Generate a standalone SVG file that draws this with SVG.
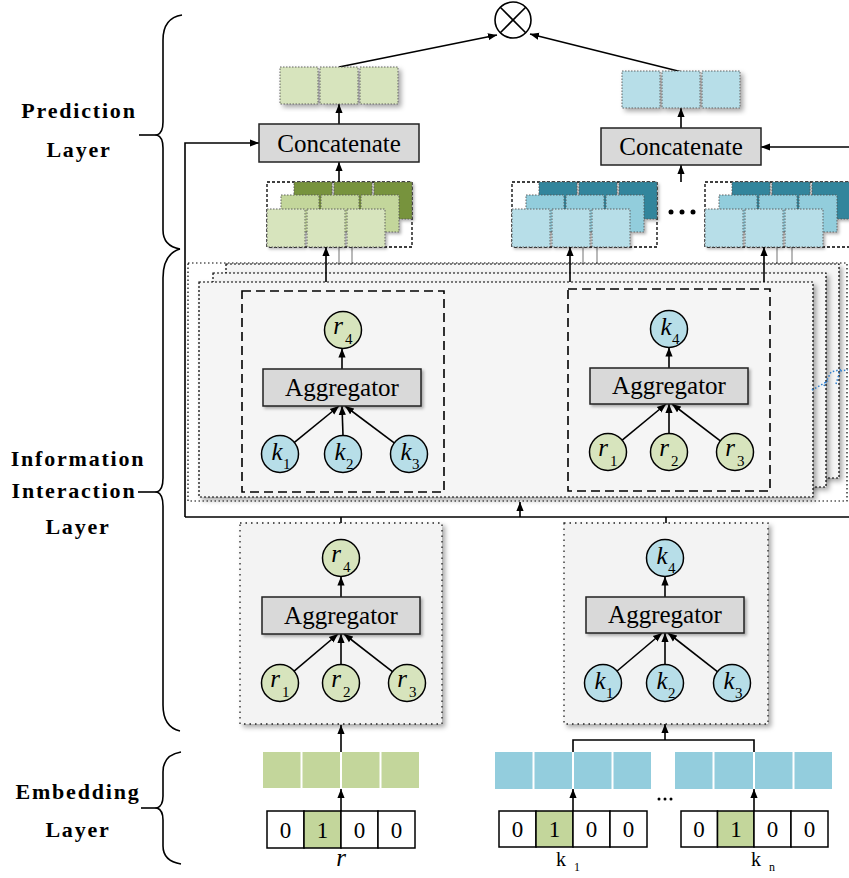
<svg xmlns="http://www.w3.org/2000/svg" width="849" height="878" viewBox="0 0 849 878">
<defs>
<style>
.t{font-family:"Liberation Serif","Times New Roman",serif;fill:#000}
.lay{font-family:"Liberation Serif","Times New Roman",serif;font-weight:bold;font-size:22px;letter-spacing:1.8px;text-anchor:middle}
.ln{stroke:#000;stroke-width:1.6;fill:none}
.ar{stroke:#000;stroke-width:1.6;fill:none;marker-end:url(#ah)}
.gl{stroke:#8a8a8a;stroke-width:1.2}
.ng{fill:#d7e4bd;stroke:#000;stroke-width:1.5}
.nb{fill:#b7dee8;stroke:#000;stroke-width:1.5}
.box{fill:#d9d9d9;stroke:#222;stroke-width:1.5}
.boxt{font-size:25px;text-anchor:middle}
.let{font-size:25px;font-style:italic;text-anchor:middle}
.sub{font-size:15px}
.dash{fill:none;stroke:#000;stroke-width:1.6;stroke-dasharray:9 5}
.frame{fill:#f5f5f5;stroke:#000;stroke-width:1.2;stroke-dasharray:2 2}
.panel{fill:#f3f3f3;stroke:#222;stroke-width:1.3;stroke-dasharray:1.5 4}
.grp{fill:#fff;stroke:#000;stroke-width:1.3;stroke-dasharray:3 2}
.cell{stroke:#555;stroke-width:0.9;stroke-dasharray:1.5 1.5}
.gd{fill:#77933c}.gm{fill:#c3d69b}.gf{fill:#d7e4bd}
.bd{fill:#31859c}.bm{fill:#92cddc}.bf{fill:#b7dee8}
.emg{fill:#c3d69b}.emb{fill:#93cddd}
.oh{fill:#fff;stroke:#000;stroke-width:1.5}
.ohg{fill:#c3d69b;stroke:#000;stroke-width:1.5}
.dig{font-size:23px;text-anchor:middle}
.brace{fill:none;stroke:#000;stroke-width:1.6}
.blue{fill:none;stroke:#2e7fcf;stroke-width:1.5;stroke-dasharray:1.5 2}
</style>
<marker id="ah" viewBox="0 0 10 10" refX="10" refY="5" markerWidth="9" markerHeight="9" markerUnits="userSpaceOnUse" orient="auto">
<path d="M0,1 L10,5 L0,9 z" fill="#000"/>
</marker>
<filter id="sh" x="-10%" y="-10%" width="130%" height="130%">
<feDropShadow dx="3" dy="3" stdDeviation="2.5" flood-color="#000" flood-opacity="0.35"/>
</filter>
<filter id="sh2" x="-10%" y="-10%" width="130%" height="130%">
<feDropShadow dx="2" dy="2" stdDeviation="1.5" flood-color="#000" flood-opacity="0.3"/>
</filter>
</defs>
<rect width="849" height="878" fill="#fff"/>

<!-- Layer labels and braces -->
<g id="labels">
<text class="lay" x="79" y="118">Prediction</text>
<text class="lay" x="79" y="157">Layer</text>
<text class="lay" x="78" y="466">Information</text>
<text class="lay" x="74" y="498">Interaction</text>
<text class="lay" x="78" y="534">Layer</text>
<text class="lay" x="78" y="799">Embedding</text>
<text class="lay" x="78" y="837">Layer</text>
<path class="brace" d="M182,15 Q163,18 163,40 L163,122 Q163,133 157,135 Q163,137 163,148 L163,230 Q163,246 180,249"/>
<path class="brace" d="M180,249 Q163,254 163,278 L163,478 Q163,490 157,492 Q163,494 163,506 L163,705 Q163,727 180,731"/>
<path class="brace" d="M181,752 Q163,755 163,772 L163,796 Q163,806 157,808 Q163,810 163,820 L163,846 Q163,861 181,864"/>
<line class="ln" x1="139" y1="135" x2="157" y2="135"/>
<line class="ln" x1="138" y1="492" x2="157" y2="492"/>
<line class="ln" x1="141" y1="808" x2="157" y2="808"/>
</g>

<!-- Connectors -->
<g id="connectors">
<path class="ar" d="M185,517 V143 H259"/>
<line class="ln" x1="185" y1="517" x2="849" y2="517"/>
<line class="ar" x1="849" y1="147" x2="761" y2="147"/>
<line class="ln" x1="341" y1="517" x2="341" y2="523"/>
<line class="ln" x1="666" y1="517" x2="666" y2="523"/>
<line class="ar" x1="520" y1="517" x2="520" y2="502"/>
<line class="ar" x1="339" y1="67" x2="497" y2="35"/>
<line class="ar" x1="682" y1="72" x2="530" y2="34"/>
<line class="ar" x1="339" y1="124" x2="339" y2="104"/>
<line class="ar" x1="339" y1="182" x2="339" y2="162"/>
<line class="ar" x1="681" y1="128" x2="681" y2="108"/>
<line class="ar" x1="681" y1="182" x2="681" y2="165"/>
<line class="gl" x1="339" y1="247" x2="339" y2="273"/>
<line class="gl" x1="352" y1="247" x2="352" y2="264"/>
<line class="gl" x1="583" y1="247" x2="583" y2="273"/>
<line class="gl" x1="597" y1="247" x2="597" y2="264"/>
<line class="gl" x1="777" y1="247" x2="777" y2="273"/>
<line class="gl" x1="792" y1="247" x2="792" y2="264"/>
<line class="ar" x1="341" y1="752" x2="341" y2="725"/>
<line class="ar" x1="341" y1="811" x2="341" y2="789"/>
<line class="ar" x1="573" y1="811" x2="573" y2="789"/>
<line class="ar" x1="754" y1="811" x2="754" y2="789"/>
<path class="ln" d="M573,752 V740 H754 V752"/>
<line class="ar" x1="665" y1="740" x2="665" y2="724"/>
</g>

<!-- Product node -->
<g id="product">
<circle cx="513" cy="20" r="18" fill="#fff" stroke="#000" stroke-width="1.6"/>
<line class="ln" x1="500.3" y1="7.3" x2="525.7" y2="32.7"/>
<line class="ln" x1="525.7" y1="7.3" x2="500.3" y2="32.7"/>
</g>

<!-- Prediction outputs -->
<g id="out-left" filter="url(#sh)">
<rect class="cell gf" x="280" y="67" width="38" height="37"/>
<rect class="cell gf" x="320" y="67" width="38" height="37"/>
<rect class="cell gf" x="360" y="67" width="38" height="37"/>
</g>
<g id="out-right" filter="url(#sh)">
<rect class="cell bf" x="622" y="71" width="38" height="37"/>
<rect class="cell bf" x="662" y="71" width="38" height="37"/>
<rect class="cell bf" x="702" y="71" width="38" height="37"/>
</g>
<g id="concat-left">
<rect class="box" x="259" y="124" width="160" height="38"/>
<text class="t boxt" x="339" y="152">Concatenate</text>
</g>
<g id="concat-right">
<rect class="box" x="601" y="128" width="160" height="37"/>
<text class="t boxt" x="681" y="155">Concatenate</text>
</g>

<!-- Stacked embedding groups -->
<g id="stack-left">
<rect class="grp" x="267" y="182" width="145" height="65"/>
<g filter="url(#sh2)">
<rect class="cell gd" x="294" y="182" width="38" height="37"/><rect class="cell gd" x="334" y="182" width="38" height="37"/><rect class="cell gd" x="374" y="182" width="38" height="37"/>
<rect class="cell gm" x="281" y="195" width="38" height="37"/><rect class="cell gm" x="321" y="195" width="38" height="37"/><rect class="cell gm" x="361" y="195" width="38" height="37"/>
<rect class="cell gf" x="267" y="209" width="38" height="38"/><rect class="cell gf" x="307" y="209" width="38" height="38"/><rect class="cell gf" x="347" y="209" width="38" height="38"/>
</g>
</g>
<g id="stack-right-1">
<rect class="grp" x="512" y="182" width="145" height="65"/>
<g filter="url(#sh2)">
<rect class="cell bd" x="539" y="182" width="38" height="37"/><rect class="cell bd" x="579" y="182" width="38" height="37"/><rect class="cell bd" x="619" y="182" width="38" height="37"/>
<rect class="cell bm" x="526" y="195" width="38" height="37"/><rect class="cell bm" x="566" y="195" width="38" height="37"/><rect class="cell bm" x="606" y="195" width="38" height="37"/>
<rect class="cell bf" x="512" y="209" width="38" height="38"/><rect class="cell bf" x="552" y="209" width="38" height="38"/><rect class="cell bf" x="592" y="209" width="38" height="38"/>
</g>
</g>
<g id="dots-top">
<circle cx="671" cy="212" r="2.5"/><circle cx="682" cy="212" r="2.5"/><circle cx="693" cy="212" r="2.5"/>
</g>
<g id="stack-right-2">
<rect class="grp" x="705" y="182" width="150" height="65"/>
<g filter="url(#sh2)">
<rect class="cell bd" x="732" y="182" width="38" height="37"/><rect class="cell bd" x="772" y="182" width="38" height="37"/><rect class="cell bd" x="812" y="182" width="40" height="37"/>
<rect class="cell bm" x="719" y="195" width="38" height="37"/><rect class="cell bm" x="759" y="195" width="38" height="37"/><rect class="cell bm" x="799" y="195" width="38" height="37"/>
<rect class="cell bf" x="705" y="209" width="38" height="38"/><rect class="cell bf" x="745" y="209" width="38" height="38"/><rect class="cell bf" x="785" y="209" width="38" height="38"/>
</g>
</g>

<!-- Information interaction frames -->
<g id="interaction-frames">
<rect x="188" y="263" width="659" height="238" fill="none" stroke="#000" stroke-width="1.2" stroke-dasharray="1.5 2.5"/>
<rect class="frame" x="226" y="264" width="613" height="214" filter="url(#sh)"/>
<rect class="frame" x="213" y="273" width="613" height="214" filter="url(#sh)"/>
<rect class="frame" x="199" y="282" width="614" height="215" filter="url(#sh)"/>
<path class="blue" d="M812,390 L828,381 M824,386 L831,372 L843,369 M836,384 L840,371 L848,370"/>
<line class="ar" x1="326" y1="282" x2="326" y2="247"/>
<line class="ar" x1="570" y1="282" x2="570" y2="247"/>
<line class="ar" x1="764" y1="282" x2="764" y2="247"/>
</g>

<g id="interact-left">
<rect class="dash" x="242" y="291" width="202" height="201"/>
<line class="ar" x1="342" y1="369" x2="342" y2="348.5"/>
<line class="ar" x1="294.4" y1="442.4" x2="339" y2="406"/>
<line class="ar" x1="343" y1="435.5" x2="342" y2="406"/>
<line class="ar" x1="394.2" y1="442.9" x2="345" y2="406"/>
<rect class="box" x="263" y="369" width="158" height="37" filter="url(#sh2)"/>
<text class="t boxt" x="342" y="396">Aggregator</text>
<circle class="ng" cx="343" cy="330" r="18.5"/>
<text class="t let" x="338" y="334">r</text><text class="t sub" x="345" y="344">4</text>
<circle class="nb" cx="280" cy="454" r="18.5"/>
<text class="t let" x="277" y="460">k</text><text class="t sub" x="283" y="469">1</text>
<circle class="nb" cx="343" cy="454" r="18.5"/>
<text class="t let" x="340" y="460">k</text><text class="t sub" x="346" y="469">2</text>
<circle class="nb" cx="409" cy="454" r="18.5"/>
<text class="t let" x="406" y="460">k</text><text class="t sub" x="412" y="469">3</text>
</g>

<g id="interact-right">
<rect class="dash" x="568" y="289" width="202" height="202"/>
<line class="ar" x1="669" y1="368" x2="669" y2="347.5"/>
<line class="ar" x1="622.2" y1="440.2" x2="666" y2="404"/>
<line class="ar" x1="669" y1="433.5" x2="669" y2="404"/>
<line class="ar" x1="720.3" y1="440.8" x2="672" y2="404"/>
<rect class="box" x="590" y="368" width="158" height="36" filter="url(#sh2)"/>
<text class="t boxt" x="669" y="394">Aggregator</text>
<circle class="nb" cx="669" cy="329" r="18.5"/>
<text class="t let" x="666" y="335">k</text><text class="t sub" x="672" y="344">4</text>
<circle class="ng" cx="608" cy="452" r="18.5"/>
<text class="t let" x="603" y="456">r</text><text class="t sub" x="610" y="466">1</text>
<circle class="ng" cx="669" cy="452" r="18.5"/>
<text class="t let" x="664" y="456">r</text><text class="t sub" x="671" y="466">2</text>
<circle class="ng" cx="735" cy="452" r="18.5"/>
<text class="t let" x="730" y="456">r</text><text class="t sub" x="737" y="466">3</text>
</g>

<!-- Lower aggregation panels -->
<g id="agg-r">
<rect class="panel" x="240" y="523" width="202" height="201" filter="url(#sh)"/>
<line class="ar" x1="341" y1="597" x2="341" y2="576.5"/>
<line class="ar" x1="294.1" y1="671.1" x2="338" y2="634"/>
<line class="ar" x1="341" y1="664.5" x2="341" y2="634"/>
<line class="ar" x1="392.4" y1="671.6" x2="344" y2="634"/>
<rect class="box" x="262" y="597" width="158" height="37" filter="url(#sh2)"/>
<text class="t boxt" x="341" y="624">Aggregator</text>
<circle class="ng" cx="341" cy="558" r="18.5"/>
<text class="t let" x="336" y="562">r</text><text class="t sub" x="343" y="572">4</text>
<circle class="ng" cx="280" cy="683" r="18.5"/>
<text class="t let" x="275" y="687">r</text><text class="t sub" x="282" y="697">1</text>
<circle class="ng" cx="341" cy="683" r="18.5"/>
<text class="t let" x="336" y="687">r</text><text class="t sub" x="343" y="697">2</text>
<circle class="ng" cx="407" cy="683" r="18.5"/>
<text class="t let" x="402" y="687">r</text><text class="t sub" x="409" y="697">3</text>
</g>

<g id="agg-k">
<rect class="panel" x="564" y="523" width="204" height="201" filter="url(#sh)"/>
<line class="ar" x1="665" y1="597" x2="665" y2="576.5"/>
<line class="ar" x1="617.1" y1="671" x2="662" y2="633"/>
<line class="ar" x1="665" y1="664.5" x2="665" y2="633"/>
<line class="ar" x1="717.4" y1="671.6" x2="668" y2="633"/>
<rect class="box" x="586" y="597" width="158" height="36" filter="url(#sh2)"/>
<text class="t boxt" x="665" y="623">Aggregator</text>
<circle class="nb" cx="665" cy="558" r="18.5"/>
<text class="t let" x="662" y="564">k</text><text class="t sub" x="668" y="573">4</text>
<circle class="nb" cx="603" cy="683" r="18.5"/>
<text class="t let" x="600" y="689">k</text><text class="t sub" x="606" y="698">1</text>
<circle class="nb" cx="665" cy="683" r="18.5"/>
<text class="t let" x="662" y="689">k</text><text class="t sub" x="668" y="698">2</text>
<circle class="nb" cx="732" cy="683" r="18.5"/>
<text class="t let" x="729" y="689">k</text><text class="t sub" x="735" y="698">3</text>
</g>

<!-- Embedding layer -->
<g id="emb-r">
<rect class="emg" x="263" y="752" width="37.5" height="36"/><rect class="emg" x="302.5" y="752" width="37.5" height="36"/><rect class="emg" x="342" y="752" width="37.5" height="36"/><rect class="emg" x="381.5" y="752" width="37.5" height="36"/>
<rect class="oh" x="267" y="811" width="37" height="37"/><rect class="ohg" x="304" y="811" width="37" height="37"/><rect class="oh" x="341" y="811" width="37" height="37"/><rect class="oh" x="378" y="811" width="37" height="37"/>
<text class="t dig" x="285.5" y="838">0</text><text class="t dig" x="322.5" y="838">1</text><text class="t dig" x="359.5" y="838">0</text><text class="t dig" x="396.5" y="838">0</text>
<text class="t" x="341" y="866" font-size="25" font-style="italic" text-anchor="middle">r</text>
</g>
<g id="emb-k1">
<rect class="emb" x="495" y="752" width="37.5" height="37"/><rect class="emb" x="534.5" y="752" width="37.5" height="37"/><rect class="emb" x="574" y="752" width="37.5" height="37"/><rect class="emb" x="613.5" y="752" width="37.5" height="37"/>
<rect class="oh" x="499" y="811" width="37" height="36"/><rect class="ohg" x="536" y="811" width="37" height="36"/><rect class="oh" x="573" y="811" width="37" height="36"/><rect class="oh" x="610" y="811" width="37" height="36"/>
<text class="t dig" x="517.5" y="837">0</text><text class="t dig" x="554.5" y="837">1</text><text class="t dig" x="591.5" y="837">0</text><text class="t dig" x="628.5" y="837">0</text>
<text class="t" x="556" y="866" font-size="20">k</text><text class="t" x="574" y="871" font-size="12">1</text>
</g>
<g id="dots-emb">
<circle cx="659" cy="799" r="1.5"/><circle cx="665" cy="799" r="1.5"/><circle cx="671" cy="799" r="1.5"/>
</g>
<g id="emb-kn">
<rect class="emb" x="675" y="752" width="37.5" height="37"/><rect class="emb" x="714.5" y="752" width="38.5" height="37"/><rect class="emb" x="755" y="752" width="37.5" height="37"/><rect class="emb" x="794.5" y="752" width="37.5" height="37"/>
<rect class="oh" x="681" y="811" width="36.5" height="36"/><rect class="ohg" x="717.5" y="811" width="36.5" height="36"/><rect class="oh" x="754" y="811" width="37" height="36"/><rect class="oh" x="791" y="811" width="37" height="36"/>
<text class="t dig" x="699" y="837">0</text><text class="t dig" x="736" y="837">1</text><text class="t dig" x="772.5" y="837">0</text><text class="t dig" x="809.5" y="837">0</text>
<text class="t" x="751" y="866" font-size="20">k</text><text class="t" x="769" y="871" font-size="12">n</text>
</g>
</svg>
